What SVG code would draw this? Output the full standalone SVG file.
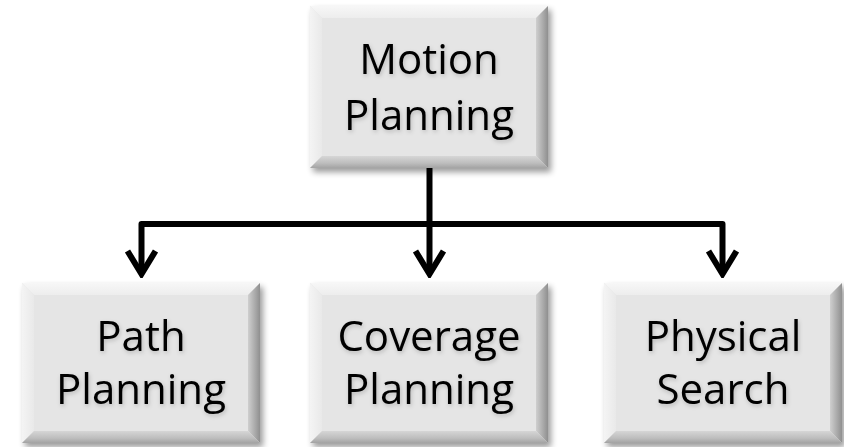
<svg xmlns="http://www.w3.org/2000/svg" width="844" height="447" viewBox="0 0 844 447">
  <defs>
    <style>
      .face { fill: #e5e5e5; }
      .bt { fill: url(#gTop); }
      .bl { fill: url(#gLeft); }
      .br { fill: url(#gRight); }
      .bb { fill: url(#gBottom); }
      .shadow { fill: #000; opacity: 0.4; filter: url(#blur); }
      .label { font-family: "Open Sans", "Liberation Sans", sans-serif; font-size: 42px; fill: #000; text-anchor: middle; filter: url(#textGlow); }
      .wire { fill: none; stroke: #000; stroke-width: 6; stroke-linejoin: round; }
    </style>
    <linearGradient id="gTop" x1="0" y1="0" x2="0" y2="1">
      <stop offset="0" stop-color="#f7f7f7"/>
      <stop offset="1" stop-color="#ededed"/>
    </linearGradient>
    <linearGradient id="gLeft" x1="0" y1="0" x2="1" y2="0">
      <stop offset="0" stop-color="#f4f4f4"/>
      <stop offset="1" stop-color="#e9e9e9"/>
    </linearGradient>
    <linearGradient id="gRight" x1="0" y1="0" x2="1" y2="0">
      <stop offset="0" stop-color="#cfcfcf"/>
      <stop offset="0.6" stop-color="#a9a9a9"/>
      <stop offset="1" stop-color="#8f8f8f"/>
    </linearGradient>
    <linearGradient id="gBottom" x1="0" y1="0" x2="0" y2="1">
      <stop offset="0" stop-color="#d6d6d6"/>
      <stop offset="0.6" stop-color="#bdbdbd"/>
      <stop offset="1" stop-color="#a3a3a3"/>
    </linearGradient>
    <filter id="blur" x="-10%" y="-10%" width="120%" height="130%">
      <feGaussianBlur stdDeviation="3"/>
    </filter>
    <filter id="textGlow" x="-10%" y="-20%" width="120%" height="140%">
      <feDropShadow dx="1" dy="2" stdDeviation="2" flood-color="#000" flood-opacity="0.2"/>
    </filter>
    <marker id="chevron" markerUnits="userSpaceOnUse" viewBox="-30 -18 34 36" refX="0" refY="0" markerWidth="34" markerHeight="36" orient="auto">
      <path d="M-23,-14 L0,0 L-23,14" fill="none" stroke="#000" stroke-width="6" stroke-linejoin="miter" stroke-linecap="butt"/>
    </marker>
  </defs>

  <!-- connectors: trunk, bus and three drops -->
  <g id="connectors">
    <path class="wire" d="M429.5,166 V224"/>
    <path class="wire" d="M429.5,224 H141.5 V274" marker-end="url(#chevron)"/>
    <path class="wire" d="M429.5,224 V274" marker-end="url(#chevron)"/>
    <path class="wire" d="M429.5,224 H722.5 V274" marker-end="url(#chevron)"/>
  </g>

  <!-- Motion Planning -->
  <g id="motion-planning">
    <rect class="shadow" x="313" y="10" width="238" height="162"/>
    <rect class="face" x="310" y="6" width="238" height="162"/>
    <polygon class="bt" points="310,6 548,6 536,18 322,18"/>
    <polygon class="bl" points="310,6 322,18 322,156 310,168"/>
    <polygon class="br" points="548,6 548,168 536,156 536,18"/>
    <polygon class="bb" points="310,168 548,168 536,156 322,156"/>
    <text class="label" x="429" y="74">Motion</text>
    <text class="label" x="429" y="130">Planning</text>
  </g>

  <!-- Path Planning -->
  <g id="path-planning">
    <rect class="shadow" x="25" y="287" width="238" height="160"/>
    <rect class="face" x="22" y="283" width="238" height="160"/>
    <polygon class="bt" points="22,283 260,283 248,295 34,295"/>
    <polygon class="bl" points="22,283 34,295 34,431 22,443"/>
    <polygon class="br" points="260,283 260,443 248,431 248,295"/>
    <polygon class="bb" points="22,443 260,443 248,431 34,431"/>
    <text class="label" x="141" y="351">Path</text>
    <text class="label" x="141" y="404">Planning</text>
  </g>

  <!-- Coverage Planning -->
  <g id="coverage-planning">
    <rect class="shadow" x="313" y="287" width="238" height="160"/>
    <rect class="face" x="310" y="283" width="238" height="160"/>
    <polygon class="bt" points="310,283 548,283 536,295 322,295"/>
    <polygon class="bl" points="310,283 322,295 322,431 310,443"/>
    <polygon class="br" points="548,283 548,443 536,431 536,295"/>
    <polygon class="bb" points="310,443 548,443 536,431 322,431"/>
    <text class="label" x="429" y="351">Coverage</text>
    <text class="label" x="429" y="404">Planning</text>
  </g>

  <!-- Physical Search -->
  <g id="physical-search">
    <rect class="shadow" x="607" y="287" width="238" height="160"/>
    <rect class="face" x="604" y="283" width="238" height="160"/>
    <polygon class="bt" points="604,283 842,283 830,295 616,295"/>
    <polygon class="bl" points="604,283 616,295 616,431 604,443"/>
    <polygon class="br" points="842,283 842,443 830,431 830,295"/>
    <polygon class="bb" points="604,443 842,443 830,431 616,431"/>
    <text class="label" x="723" y="351">Physical</text>
    <text class="label" x="723" y="404">Search</text>
  </g>
</svg>
